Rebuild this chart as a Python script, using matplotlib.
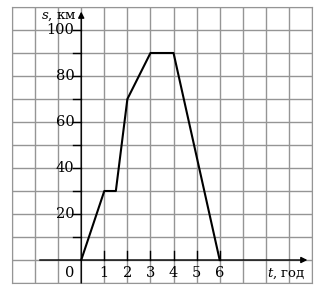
import matplotlib.pyplot as plt
import numpy as np

# data
t_values = [0, 1, 1.5, 2, 3, 4, 6]
s_values = [0, 30, 30, 70, 90, 90, 0]
x_ticks = [1, 2, 3, 4, 5, 6]
y_ticks = [20, 40, 60, 80, 100]

plt.rcParams['font.family'] = ['DejaVu Serif']
plt.rcParams['mathtext.fontset'] = 'dejavuserif'

fig = plt.figure(figsize=(3.23, 2.87), dpi=100)
ax = fig.add_axes([12 / 323, 4 / 287, 300 / 323, 276 / 287])
ax.set_xlim(-3, 10)
ax.set_ylim(-10, 110)

# grid
for gx in np.arange(-3, 11, 1):
    ax.axvline(gx, color='#959595', lw=1.0, zorder=1)
for gy in np.arange(-10, 111, 10):
    ax.axhline(gy, color='#959595', lw=1.0, zorder=1)
for sp in ax.spines.values():
    sp.set_color('#959595')
ax.set_xticks([])
ax.set_yticks([])

# axes with arrows
ax.annotate('', xy=(9.8, 0), xytext=(-1.8, 0),
            arrowprops=dict(arrowstyle='-|>', color='black', lw=1.0,
                            mutation_scale=9, shrinkA=0, shrinkB=0), zorder=3)
ax.annotate('', xy=(0, 108), xytext=(0, -10),
            arrowprops=dict(arrowstyle='-|>', color='black', lw=1.0,
                            mutation_scale=9, shrinkA=0, shrinkB=0), zorder=3)

# tick marks
for xt in x_ticks:
    ax.plot([xt, xt], [0, 4], color='black', lw=1.0, zorder=3)
    ax.text(xt, -2.5, str(xt), ha='center', va='top', fontsize=10.5)
for yt in np.arange(10, 101, 10):
    ax.plot([-0.35, 0], [yt, yt], color='black', lw=1.0, zorder=3)
for yt in y_ticks:
    ax.text(-0.3, yt, str(yt), ha='right', va='center', fontsize=10.5)
ax.text(-0.3, -2.5, '0', ha='right', va='top', fontsize=10.5)

ax.text(-0.2, 106, '$s$, км', ha='right', va='center', fontsize=9.5)
ax.text(9.7, -3, '$t$, год', ha='right', va='top', fontsize=9.5)

ax.plot(t_values, s_values, color='black', lw=1.5, zorder=4)

fig.savefig('out.png', dpi=100)
